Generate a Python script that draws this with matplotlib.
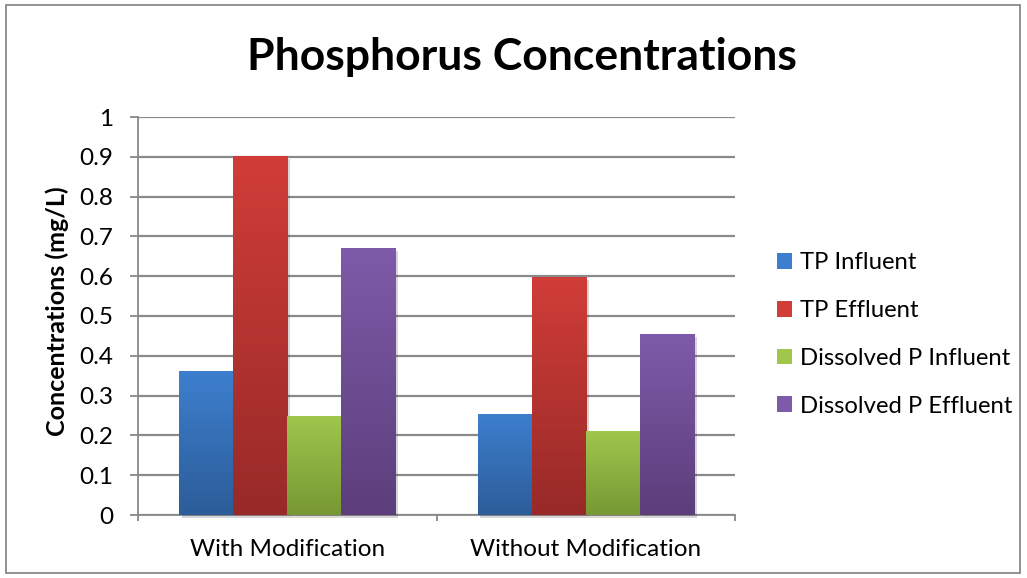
import matplotlib
matplotlib.use("Agg")
import matplotlib.pyplot as plt
import matplotlib.patheffects as pe
import numpy as np
from matplotlib.colors import LinearSegmentedColormap
from matplotlib.patches import Rectangle

plt.rcParams['font.family'] = ['Lato', 'DejaVu Sans']

categories = ["With Modification", "Without Modification"]
series = ["TP Influent", "TP Effluent", "Dissolved P Influent", "Dissolved P Effluent"]
tp_influent = [0.362, 0.254]
tp_effluent = [0.902, 0.597]
dp_influent = [0.249, 0.211]
dp_effluent = [0.671, 0.455]
values = [tp_influent, tp_effluent, dp_influent, dp_effluent]

# (top colour, bottom colour) for each series gradient
colors = [("#3D7FCE", "#2C5D99"),
          ("#D13D38", "#972A28"),
          ("#A0C64C", "#779834"),
          ("#7E5BA9", "#5C3E7B")]

fig = plt.figure(figsize=(10.27, 5.78), dpi=100)
ax = fig.add_axes([138 / 1027, 1 - 515 / 578, (735 - 138) / 1027, (515 - 117) / 578])

n = len(series)
bar_w = 0.181
x = np.arange(len(categories))
grad = np.linspace(1, 0, 256).reshape(-1, 1)

handles = []
for i, (name, vals) in enumerate(zip(series, values)):
    pos = x + (i - (n - 1) / 2) * bar_w
    top, bottom = colors[i]
    cmap = LinearSegmentedColormap.from_list(name, [bottom, top])
    bars = ax.bar(pos, vals, bar_w, color=top, zorder=3, linewidth=0, clip_on=False,
                  path_effects=[pe.SimplePatchShadow(offset=(2, -2), alpha=0.18),
                                pe.Normal()])
    for b in bars:
        bx, by = b.get_x(), b.get_y()
        im = ax.imshow(grad, cmap=cmap, aspect='auto', zorder=3.5,
                       extent=[bx, bx + b.get_width(), by, by + b.get_height()],
                       vmin=0, vmax=1)
        im.set_clip_path(b)
    handles.append(Rectangle((0, 0), 1, 1, facecolor=top, edgecolor='none'))

ax.set_xlim(-0.5, 1.5)
ax.set_ylim(0, 1)
ax.set_yticks(np.arange(0, 1.01, 0.1))
ax.set_yticklabels(["0", "0.1", "0.2", "0.3", "0.4", "0.5", "0.6", "0.7", "0.8", "0.9", "1"])
ax.set_xticks(x)
ax.set_xticklabels(categories)
ax.set_xticks([-0.5, 0.5, 1.5], minor=True)
ax.tick_params(axis='x', which='major', length=0, labelsize=17.5, pad=17)
ax.tick_params(axis='x', which='minor', length=4.5, color='#888888', width=1.3)
ax.tick_params(axis='y', length=5.8, color='#888888', width=1.3, labelsize=17.5, pad=12)
ax.grid(axis='y', color='#8a8a8a', linewidth=1.6, zorder=0)
ax.set_axisbelow(True)
for s in ['top', 'right']:
    ax.spines[s].set_visible(False)
for s in ['left', 'bottom']:
    ax.spines[s].set_color('#888888')
    ax.spines[s].set_linewidth(1.3)

fig.text(57 / 1027, 1 - 311 / 578, "Concentrations (mg/L)", fontsize=18,
         fontweight='bold', rotation=90, ha='center', va='center')
fig.text(522 / 1027, 1 - 70 / 578, "Phosphorus Concentrations", fontsize=32,
         fontweight='bold', ha='center', va='baseline')

fig.legend(handles, series, loc='center left', bbox_to_anchor=(767 / 1027, 1 - 334.5 / 578),
           frameon=False, fontsize=17.2, handlelength=0.63, handleheight=0.63,
           handletextpad=0.34, labelspacing=1.12, borderaxespad=0)

fig.patches.append(Rectangle((6 / 1027, 5 / 578), 1014 / 1027, 568 / 578,
                             transform=fig.transFigure, fill=False,
                             edgecolor='#888888', linewidth=1.3))

fig.savefig("out.png", dpi=100)
